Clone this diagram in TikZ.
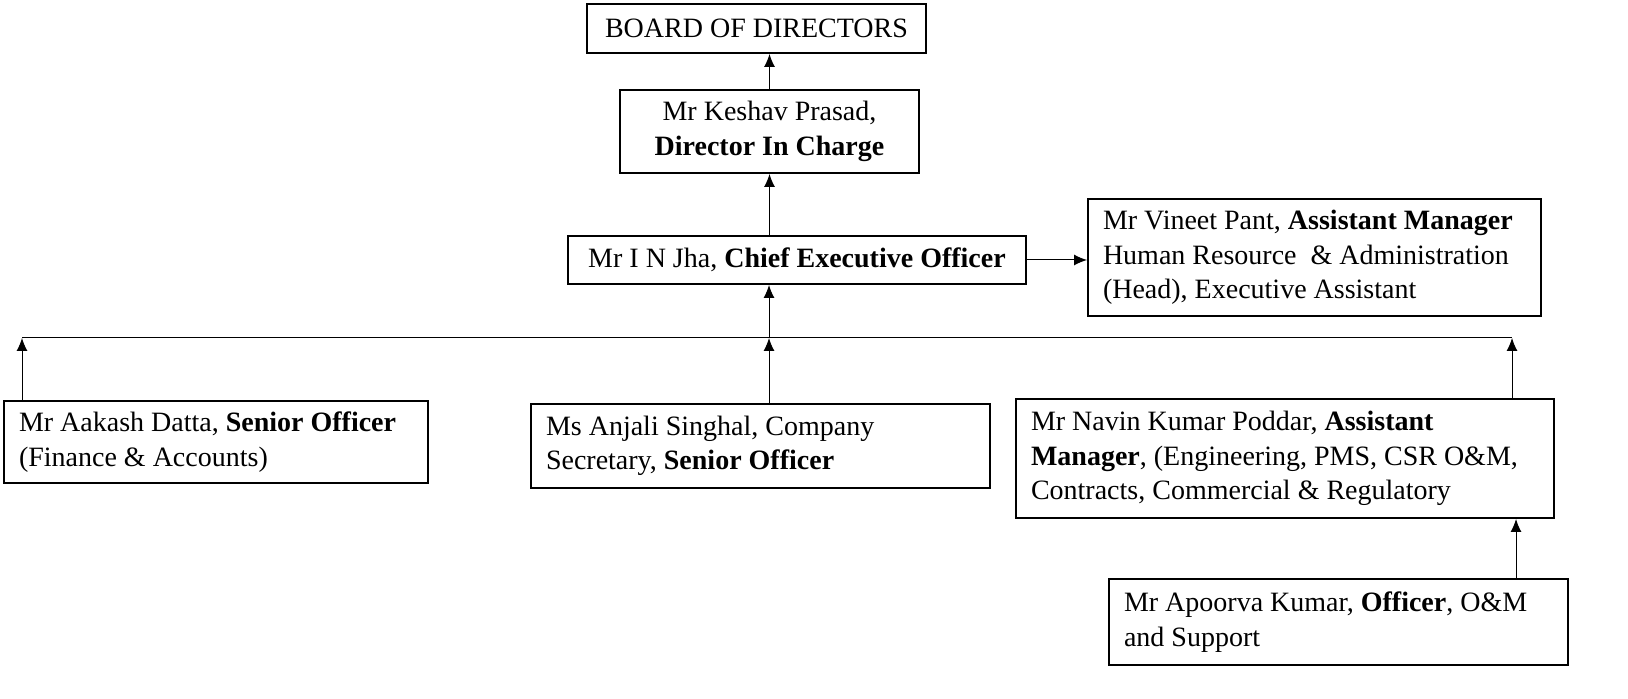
\documentclass[tikz,border=0pt]{standalone}
\usepackage{fontspec}
\setmainfont{Liberation Serif}
\usetikzlibrary{arrows.meta}
\tikzset{
	box/.style={draw,line width=1pt,anchor=north west,inner xsep=7.5pt,inner ysep=2pt,align=flush left,font=\fontsize{14}{17.25}\selectfont},
	cbox/.style={box,align=center,inner xsep=0pt},
	arr/.style={line width=0.5pt,-{Latex[length=6.5pt,width=5.5pt]}}
}
\begin{document}
\begin{tikzpicture}[x=0.5pt,y=-0.5pt]
		\useasboundingbox(0,0)rectangle(1628,699);
		\node[cbox,minimum width=169.5pt,minimum height=24.5pt](board)at(586,3){BOARD OF DIRECTORS};
		\node[cbox,minimum width=149.5pt,minimum height=41.5pt](dic)at(619,89){Mr Keshav Prasad,\\\textbf{Director In Charge}};
		\node[cbox,minimum width=229pt,minimum height=24pt](ceo)at(567,235){Mr I N Jha, \textbf{Chief Executive Officer}};
		\node[box,text width=211.5pt,minimum height=58.5pt](vineet)at(1087,198){Mr Vineet Pant, \textbf{Assistant Manager}\\Human Resource~ \& Administration\\(Head), Executive Assistant};
		\node[box,text width=197pt,minimum height=41pt](aakash)at(3,400){Mr Aakash Datta, \textbf{Senior Officer}\\(Finance \& Accounts)};
		\node[box,text width=214.5pt,minimum height=42pt](anjali)at(530,403){Ms Anjali Singhal, Company\\Secretary, \textbf{Senior Officer}};
		\node[box,text width=254pt,minimum height=59.5pt](navin)at(1015,398){Mr Navin Kumar Poddar, \textbf{Assistant}\\\textbf{Manager}, (Engineering, PMS, CSR O\&M,\\Contracts, Commercial \& Regulatory};
		\node[box,text width=214.5pt,minimum height=43pt](apoorva)at(1108,578){Mr Apoorva Kumar, \textbf{Officer}, O\&M\\and Support};
		% bus line
		\coordinate(busL)at(22,338);
		\coordinate(busM)at(769,338);
		\coordinate(busR)at(1512,338);
		\draw[line width=0.5pt](busL)--(busR);
		\draw[arr](dic.north)--(dic.north|-board.south);
		\draw[arr](ceo.north-|dic.south)--(dic.south);
		\draw[arr](ceo.east)--(ceo.east-|vineet.west);
		\draw[arr](busM)--(busM|-ceo.south);
		\draw[arr](aakash.north-|busL)--(busL);
		\draw[arr](anjali.north-|busM)--(busM);
		\draw[arr](navin.north-|busR)--(busR);
		\draw[arr]([xshift=2pt]apoorva.north-|busR)--([xshift=2pt]navin.south-|busR);
\end{tikzpicture}
\end{document}
